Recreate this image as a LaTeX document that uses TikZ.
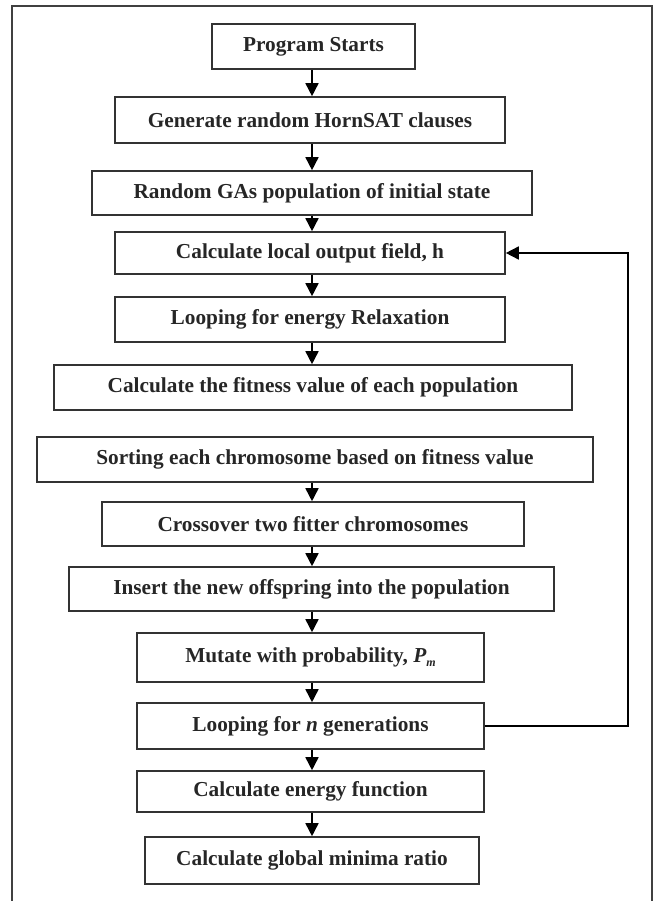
\documentclass[tikz,border=0pt]{standalone}
\usepackage{fontspec}
\setmainfont{Liberation Serif}
\usetikzlibrary{arrows.meta,calc}
\begin{document}
\begin{tikzpicture}[x=1pt,y=-1pt,
  box/.style={draw=black!80,line width=1.6pt,inner sep=0pt,font=\fontsize{21.3}{23}\selectfont\bfseries,text=black!85},
  arr/.style={line width=1.6pt,-{Triangle[length=13pt,width=13pt]}},
  frame/.style={draw=black!75,line width=2.6pt}]
\useasboundingbox (0,0) rectangle (655,901);
\draw[frame] (12,901) -- (12,6) -- (652,6) -- (652,901);
\coordinate (ax) at (312,0);
\node[box,minimum width=203pt,minimum height=45pt] (b1) at (313.5,46.5) {Program Starts};
\node[box,minimum width=390pt,minimum height=46pt] (b2) at (310,120) {Generate random HornSAT clauses};
\node[box,minimum width=440pt,minimum height=44pt] (b3) at (312,193) {Random GAs population of initial state};
\node[box,minimum width=390pt,minimum height=42pt] (b4) at (310,253) {Calculate local output field, h};
\node[box,minimum width=390pt,minimum height=45pt] (b5) at (310,319.5) {Looping for energy Relaxation};
\node[box,minimum width=518pt,minimum height=45pt] (b6) at (313,387.5) {Calculate the fitness value of each population};
\node[box,minimum width=556pt,minimum height=45pt] (b7) at (315,459.5) {Sorting each chromosome based on fitness value};
\node[box,minimum width=422pt,minimum height=44pt] (b8) at (313,524) {Crossover two fitter chromosomes};
\node[box,minimum width=485pt,minimum height=44pt] (b9) at (311.5,589) {Insert the new offspring into the population};
\node[box,minimum width=347pt,minimum height=49pt] (b10) at (310.5,657.5) {Mutate with probability, \textit{P}\raisebox{-0.35ex}{\fontsize{12}{12}\selectfont\textit{m}}};
\node[box,minimum width=347pt,minimum height=46pt] (b11) at (310.5,726) {Looping for \textit{n} generations};
\node[box,minimum width=347pt,minimum height=41pt] (b12) at (310.5,791.5) {Calculate energy function};
\node[box,minimum width=334pt,minimum height=47pt] (b13) at (312,860.5) {Calculate global minima ratio};
\foreach \a/\b in {b1/b2,b2/b3,b3/b4,b4/b5,b5/b6,b7/b8,b8/b9,b9/b10,b10/b11,b11/b12,b12/b13}
  \draw[arr] (\a.south -| ax) -- (\b.north -| ax);
\coordinate (fb) at (628,0);
\draw[arr] (b11.east) -- (b11.east -| fb) -- (b4.east -| fb) -- (b4.east);
\end{tikzpicture}
\end{document}
